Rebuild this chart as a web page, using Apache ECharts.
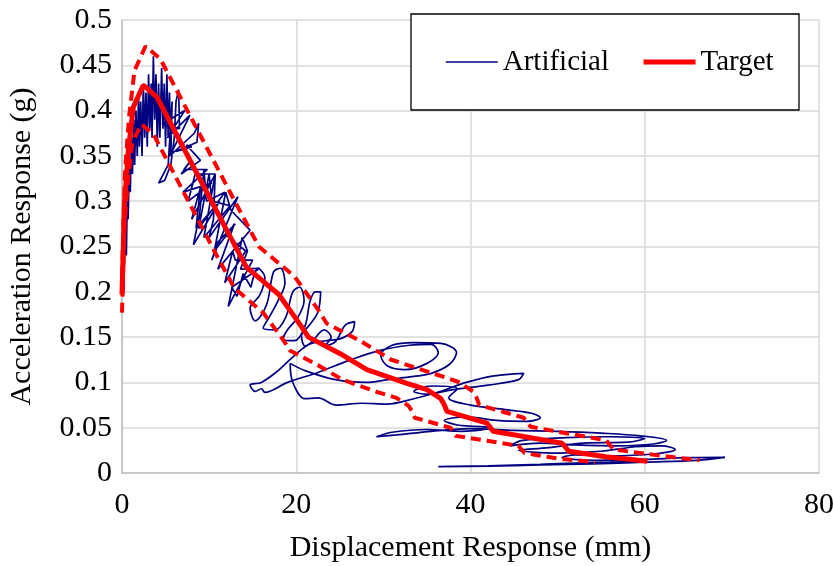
<!DOCTYPE html>
<html>
<head>
<meta charset="utf-8">
<script src="https://cdn.jsdelivr.net/npm/echarts@6/dist/echarts.min.js"></script>
<style>html,body{margin:0;padding:0;background:#fff}#c{width:833px;height:566px}</style>
</head>
<body>
<div id="c"></div>
<script>
// ---- data (x = displacement mm, y = acceleration g) ----
const xTicks = [0, 20, 40, 60, 80];
const yTicks = [0, 0.05, 0.1, 0.15, 0.2, 0.25, 0.3, 0.35, 0.4, 0.45, 0.5];

const target = [[0,0.197],[0.3,0.30],[0.73,0.356],[1.3,0.404],[2.45,0.428],[4.0,0.415],[11.8,0.272],[14.3,0.227],[18.0,0.197],[20.5,0.163],[21.4,0.150],[25.0,0.132],[28.1,0.114],[32.7,0.099],[35.0,0.092],[36.6,0.082],[37.0,0.075],[37.3,0.068],[41.9,0.055],[42.6,0.046],[50.5,0.033],[51.3,0.024],[55.5,0.018],[60.3,0.013]];

const upperBound = [[0,0.217],[0.33,0.33],[0.80,0.392],[1.43,0.444],[2.70,0.471],[4.4,0.457],[13.0,0.299],[15.7,0.250],[19.8,0.217],[22.6,0.179],[23.5,0.165],[27.5,0.145],[30.9,0.125],[36.0,0.109],[38.5,0.101],[40.3,0.090],[40.7,0.083],[41.0,0.075],[46.1,0.061],[46.9,0.051],[55.6,0.036],[56.4,0.026],[61.1,0.020],[66.3,0.014]];

const lowerBound = [[0,0.177],[0.27,0.27],[0.66,0.320],[1.17,0.364],[2.2,0.385],[3.6,0.374],[10.6,0.245],[12.9,0.204],[16.2,0.177],[18.5,0.147],[19.3,0.135],[22.5,0.119],[25.3,0.103],[29.4,0.089],[31.5,0.083],[32.9,0.074],[33.3,0.068],[33.6,0.061],[37.7,0.050],[38.3,0.041],[45.5,0.030],[46.2,0.022],[50.0,0.016],[54.3,0.012]];

const artificialPeak = [[0.2,0.2],[0.35,0.26],[0.5,0.24],[0.6,0.30],[0.7,0.28],[0.85,0.34],[0.95,0.31],[1.1,0.37],[1.2,0.33],[1.35,0.39],[1.45,0.34],[1.6,0.40],[1.75,0.35],[1.9,0.42],[2.0,0.36],[2.15,0.41],[2.3,0.35],[2.45,0.43],[2.6,0.37],[2.75,0.42],[2.9,0.36],[3.05,0.44],[3.2,0.38],[3.35,0.43],[3.45,0.37],[3.6,0.46],[3.75,0.39],[3.9,0.44],[4.05,0.36],[4.2,0.43],[4.35,0.37],[4.55,0.447],[4.7,0.38],[4.85,0.43],[5.0,0.36],[5.15,0.44],[5.3,0.37],[5.45,0.42],[5.6,0.35],[5.75,0.41],[5.3,0.34],[4.2,0.32],[4.9,0.323],[5.6,0.34],[6.0,0.37],[6.2,0.41],[6.5,0.423],[6.6,0.38],[4.6,0.385],[7.2,0.40],[5.2,0.37],[7.8,0.395],[5.5,0.35],[8.3,0.375],[8.8,0.386],[8.6,0.365],[6.2,0.355],[8.0,0.36],[7.4,0.362],[9.0,0.345],[6.8,0.33],[7.9,0.345],[7.1,0.335],[9.8,0.335],[7.0,0.31],[10.3,0.32],[7.6,0.30],[8.4,0.33],[10.7,0.33],[8.0,0.28],[9.0,0.315],[8.5,0.27],[11.2,0.30],[8.2,0.252],[8.9,0.285],[9.4,0.335],[9.7,0.30],[11.8,0.31],[8.8,0.27],[10.0,0.33],[10.3,0.30],[12.4,0.295],[9.4,0.26],[10.7,0.33],[10.5,0.28],[10.0,0.26],[13.3,0.305],[10.3,0.235],[11.0,0.255],[13.0,0.275],[10.6,0.245],[11.5,0.29],[11.9,0.31],[12.5,0.29],[14.7,0.268],[11.0,0.225],[12.9,0.275],[12.0,0.262],[14.2,0.245],[11.8,0.21],[12.7,0.245],[13.0,0.235],[15.0,0.235],[12.2,0.184],[13.8,0.26],[14.4,0.245],[13.6,0.225],[15.8,0.226],[12.6,0.205],[13.2,0.195],[13.9,0.22],[14.8,0.205]];

const artificialTail = [[14.8,0.205],[15.6,0.226],[16.4,0.216],[15.8,0.196],[14.7,0.182],[15.3,0.168],[16.6,0.186],[17.4,0.222],[18.2,0.226],[18.7,0.21],[17.9,0.19],[16.9,0.172],[16.2,0.16],[17.6,0.158],[18.8,0.172],[19.6,0.2],[20.4,0.205],[20.9,0.19],[20.2,0.172],[19.0,0.158],[18.5,0.148],[19.8,0.146],[21.0,0.162],[21.6,0.19],[22.2,0.2],[22.8,0.2],[22.5,0.178],[21.5,0.163],[20.6,0.152],[21.0,0.14],[21.8,0.145],[23.2,0.158],[24.0,0.15],[23.2,0.14],[24.5,0.145],[25.6,0.163],[26.7,0.167],[26.4,0.156],[25.0,0.148],[23.4,0.146],[21.5,0.142],[19.6,0.128],[17.8,0.112],[16.0,0.1],[14.7,0.097],[15.3,0.09],[16.0,0.093],[16.4,0.089],[19.0,0.1],[22.5,0.111],[26.0,0.124],[29.5,0.135],[33.0,0.141],[35.5,0.142],[36.3,0.133],[35.0,0.121],[32.5,0.114],[30.5,0.118],[29.7,0.13],[31.0,0.141],[33.5,0.144],[36.6,0.143],[38.4,0.133],[37.6,0.12],[35.5,0.11],[33.0,0.106],[30.5,0.103],[28.0,0.1],[24.5,0.103],[21.0,0.113],[19.3,0.121],[19.6,0.1],[21.0,0.082],[22.5,0.083],[24.6,0.075],[27.5,0.077],[30.4,0.076],[33.5,0.082],[36.5,0.09],[39.5,0.1],[42.5,0.107],[46.1,0.11],[45.5,0.103],[42.0,0.097],[38.0,0.092],[35.0,0.087],[33.5,0.09],[35.5,0.096],[38.5,0.093],[37.5,0.083],[40.0,0.075],[44.0,0.07],[47.0,0.066],[48.0,0.061],[46.5,0.057],[43.0,0.058],[39.5,0.062],[37.0,0.058],[38.5,0.053],[42.5,0.05],[39.0,0.046],[35.0,0.048],[31.0,0.045],[29.2,0.04],[31.5,0.042],[35.5,0.046],[40.0,0.049],[45.0,0.047],[50.0,0.046],[55.0,0.044],[59.5,0.041],[62.5,0.036],[61.0,0.032],[57.0,0.03],[52.0,0.031],[48.0,0.033],[44.5,0.03],[46.0,0.036],[51.0,0.039],[56.0,0.04],[60.0,0.038],[58.0,0.034],[53.0,0.033],[49.0,0.028],[45.5,0.025],[50.0,0.022],[55.0,0.024],[59.0,0.029],[62.0,0.03],[63.5,0.026],[61.0,0.021],[56.0,0.019],[52.0,0.02],[50.5,0.017],[54.0,0.014],[60.0,0.015],[65.0,0.017],[69.2,0.0173],[66.0,0.014],[60.0,0.012],[54.0,0.01],[48.0,0.009],[42.0,0.0075],[36.3,0.007],[42.0,0.008],[48.0,0.0095],[52.0,0.011],[56.0,0.012],[60.0,0.013]];

const FONT = "'Liberation Serif','Times New Roman',serif";
const BLUE = '#000080';
const RED = '#FF0000';

const chart = echarts.init(document.getElementById('c'), null, {renderer: 'canvas'});
chart.setOption({
  animation: false,
  backgroundColor: '#fff',
  grid: {left: 122, right: 14, top: 20, bottom: 93, outerBoundsMode: 'none', containLabel: false},
  xAxis: {
    type: 'value', min: xTicks[0], max: xTicks[xTicks.length-1], interval: 20,
    name: 'Displacement Response (mm)', nameLocation: 'middle', nameGap: 60,
    nameTextStyle: {fontFamily: FONT, fontSize: 30, color: '#000'},
    axisLine: {show: true, lineStyle: {color: '#bfbfbf', width: 1.5}},
    axisTick: {show: false},
    axisLabel: {fontFamily: FONT, fontSize: 30, color: '#000', margin: 17},
    splitLine: {show: true, lineStyle: {color: '#d9d9d9', width: 1.5}}
  },
  yAxis: {
    type: 'value', min: yTicks[0], max: yTicks[yTicks.length-1], interval: 0.05,
    name: 'Acceleration Response (g)', nameLocation: 'middle', nameGap: 85,
    nameTextStyle: {fontFamily: FONT, fontSize: 30, color: '#000'},
    axisLine: {show: true, lineStyle: {color: '#bfbfbf', width: 1.5}},
    axisTick: {show: false},
    axisLabel: {fontFamily: FONT, fontSize: 30, color: '#000', margin: 10,
      formatter: v => String(+v.toFixed(2))},
    splitLine: {show: true, lineStyle: {color: '#d9d9d9', width: 1.5}}
  },
  graphic: [{
    type: 'rect', z: 3,
    shape: {x: 411, y: 14, width: 388, height: 96},
    style: {fill: '#fff', stroke: '#000', lineWidth: 1.3}
  }],
  legend: {
    left: 445, top: 46, padding: 0, itemGap: 32, itemWidth: 52, itemHeight: 14,
    z: 5,
    textStyle: {fontFamily: FONT, fontSize: 29, color: '#000', lineHeight: 32},
    data: [
      {name: 'Artificial', lineStyle: {width: 1.5, color: BLUE}, itemStyle: {opacity: 0}},
      {name: 'Target', lineStyle: {width: 5, color: RED}, itemStyle: {opacity: 0}}
    ]
  },
  series: [
    {name: 'Artificial', type: 'line', data: artificialPeak, symbol: 'none', smooth: false,
      lineStyle: {color: BLUE, width: 1.7}, itemStyle: {color: BLUE}, z: 2},
    {name: 'Artificial', type: 'line', data: artificialTail, symbol: 'none', smooth: 0.35,
      lineStyle: {color: BLUE, width: 1.7}, itemStyle: {color: BLUE}, z: 2},
    {name: 'Upper', type: 'line', data: upperBound, symbol: 'none',
      lineStyle: {color: RED, width: 4, type: [10, 6]}, itemStyle: {color: RED}, z: 3},
    {name: 'Lower', type: 'line', data: lowerBound, symbol: 'none',
      lineStyle: {color: RED, width: 4, type: [10, 6]}, itemStyle: {color: RED}, z: 3},
    {name: 'Target', type: 'line', data: target, symbol: 'none',
      lineStyle: {color: RED, width: 5}, itemStyle: {color: RED}, z: 3}
  ]
});
</script>
</body>
</html>
